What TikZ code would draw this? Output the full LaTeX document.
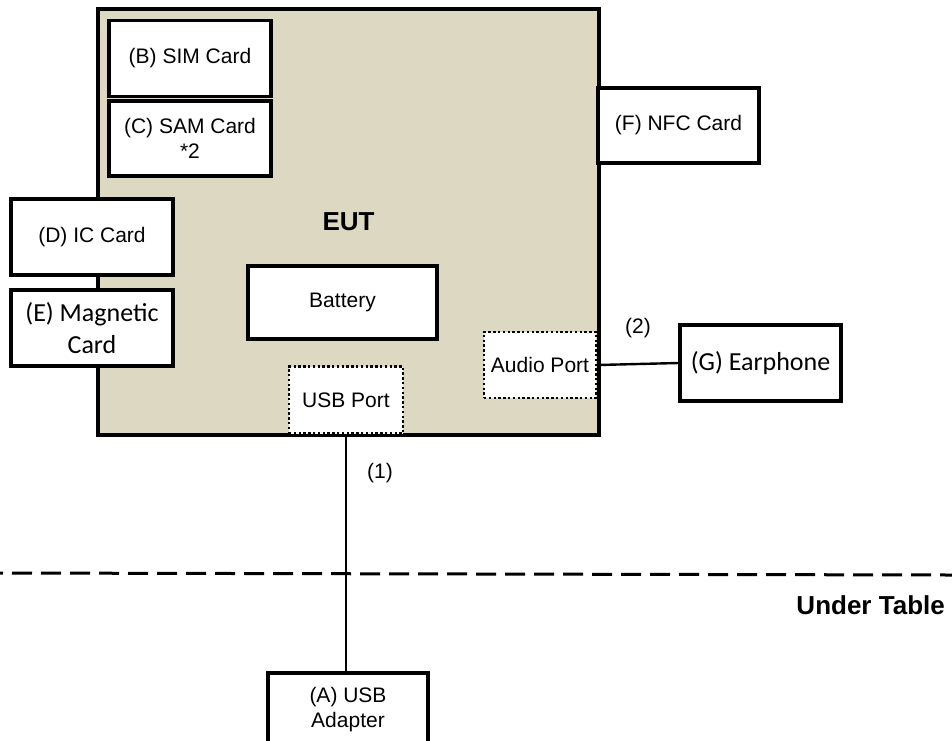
\documentclass[tikz,border=0pt]{standalone}
\usepackage{fontspec}
\setmainfont{Liberation Sans}
\newfontfamily\calibri{Carlito}
\usepackage{xcolor}
\usepackage{tikz}
\usetikzlibrary{calc,positioning}
\definecolor{eutbg}{RGB}{221,216,194}
\tikzset{
  eutbox/.style={draw, line width=3.2pt, fill=eutbg, inner sep=0pt, font=\fontsize{26}{30}\selectfont\bfseries},
  cardbox/.style={draw, line width=3.2pt, fill=white, align=center, inner sep=0pt, font=\fontsize{21}{25}\selectfont},
  wordbox/.style={cardbox, font=\calibri\fontsize{26}{32}\selectfont},
  portbox/.style={draw, line width=2.6pt, dash pattern=on 2.4pt off 2.4pt, fill=white, align=center, inner sep=0pt, font=\fontsize{21}{25}\selectfont},
  cable/.style={line width=2.4pt},
  tableline/.style={line width=3pt, dash pattern=on 20pt off 9pt, dash phase=17pt},
  lbl/.style={inner sep=0pt, font=\fontsize{21}{25}\selectfont}
}
\begin{document}
\begin{tikzpicture}[x=1pt,y=-1pt]
\clip (0,0) rectangle (952,740);
\node[eutbox, minimum width=501pt, minimum height=426pt] (eut) at (348.5,222) {EUT};
\node[cardbox, minimum width=162pt, minimum height=76pt] (sim) at (190,58.5) {(B) SIM Card};
\node[cardbox, minimum width=162pt, minimum height=75pt] (sam) at (190,138.5) {(C) SAM Card\\*2};
\node[cardbox, minimum width=162pt, minimum height=76pt] (ic) at (92,237) {(D) IC Card};
\node[wordbox, minimum width=162pt, minimum height=76pt] (mag) at (92,328) {(E) Magnetic\\Card};
\node[cardbox, minimum width=161pt, minimum height=75pt] (nfc) at (678.5,125.5) {(F) NFC Card};
\node[cardbox, minimum width=189pt, minimum height=73pt] (battery) at (342.5,302.5) {Battery};
\node[portbox, minimum width=114pt, minimum height=67pt] (usbport) at (346,400) {USB Port};
\node[portbox, minimum width=112pt, minimum height=66pt] (audio) at (540,365) {Audio Port};
\node[wordbox, minimum width=161pt, minimum height=76pt] (earphone) at (760.5,363) {(G) Earphone};
\node[cardbox, minimum width=160pt, minimum height=74pt] (adapter) at (348,710) {(A) USB\\Adapter};
\node[lbl] (one) at (380,473) {(1)};
\node[lbl] (two) at (638,328) {(2)};
\node[inner sep=0pt, anchor=east, font=\fontsize{26}{30}\selectfont\bfseries] (under) at (945,605) {Under Table};
\coordinate (tl) at (0,573);
\coordinate (tr) at (952,575);
\draw[tableline] (tl) -- (tr);
\draw[cable] (usbport.south) -- (usbport.south |- adapter.north);
\draw[cable] (audio.east) -- (earphone.west);
\end{tikzpicture}
\end{document}
